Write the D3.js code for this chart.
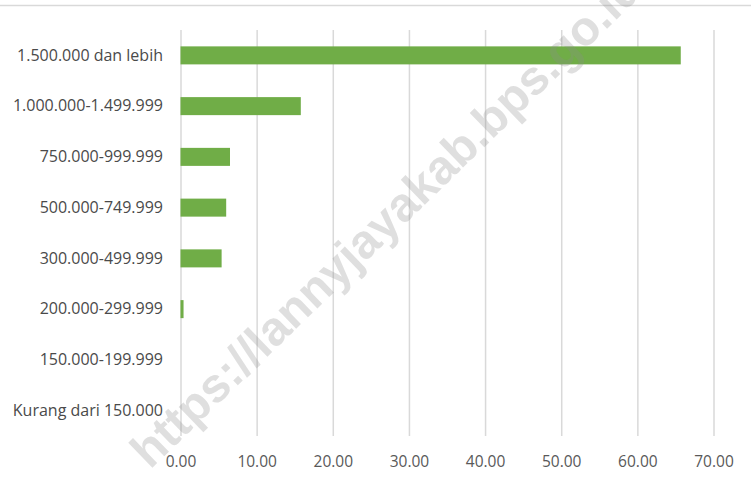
<!DOCTYPE html>
<html>
<head>
<meta charset="utf-8">
<script src="https://cdn.jsdelivr.net/npm/d3@7"></script>
<style>
  html, body { margin: 0; padding: 0; background: #fff; }
  svg { display: block; }
</style>
</head>
<body>
<svg id="chart" width="751" height="486"></svg>
<script>
const categories = [
  "1.500.000 dan lebih",
  "1.000.000-1.499.999",
  "750.000-999.999",
  "500.000-749.999",
  "300.000-499.999",
  "200.000-299.999",
  "150.000-199.999",
  "Kurang dari 150.000"
];
const values = [65.7, 15.8, 6.5, 6.0, 5.4, 0.4, 0, 0];
const tickValues = [0, 10, 20, 30, 40, 50, 60, 70];
const watermark = "https://lannyjayakab.bps.go.id";

const W = 751, H = 486;
const svg = d3.select("#chart");
const font = "'Open Sans', 'Noto Sans', sans-serif";

const x = d3.scaleLinear().domain([0, 70]).range([180.5, 713.5]);
const y = d3.scaleBand().domain(categories).range([30, 436])
  .paddingInner(0.645).paddingOuter(0.3225);

// top border line
svg.append("line")
  .attr("x1", 0).attr("x2", W).attr("y1", 5.5).attr("y2", 5.5)
  .attr("stroke", "#d9d9d9").attr("stroke-width", 1.5);

// gridlines
const xAxis = d3.axisBottom(x).tickValues(tickValues)
  .tickSize(-(436 - 30)).tickSizeOuter(0)
  .tickFormat(d3.format(".2f")).tickPadding(20);
const gx = svg.append("g").attr("transform", "translate(0,436)").call(xAxis);
gx.select(".domain").remove();
gx.selectAll(".tick line").attr("stroke", "#d9d9d9").attr("stroke-width", 1.5);
gx.selectAll(".tick text")
  .attr("fill", "#595959")
  .style("font-family", font).style("font-size", "15.5px");

// bars
svg.append("g").selectAll("rect").data(values).join("rect")
  .attr("x", x(0))
  .attr("y", (d, i) => y(categories[i]))
  .attr("width", d => Math.max(0, x(d) - x(0)))
  .attr("height", y.bandwidth())
  .attr("fill", "#70ad47");

// category labels
const yAxis = d3.axisLeft(y).tickSize(0).tickPadding(0);
const gy = svg.append("g").attr("transform", "translate(163,0)").call(yAxis);
gy.select(".domain").remove();
gy.selectAll(".tick text")
  .attr("fill", "#4a4a4a")
  .style("font-family", font).style("font-size", "16px");

// watermark
svg.append("text")
  .attr("transform", "translate(150,470) rotate(-44)")
  .attr("fill", "#8c8c8c").attr("fill-opacity", 0.28)
  .style("font-family", "'Liberation Sans', Arial, sans-serif")
  .style("font-weight", "bold").style("font-size", "48px")
  .text(watermark);
</script>
</body>
</html>
